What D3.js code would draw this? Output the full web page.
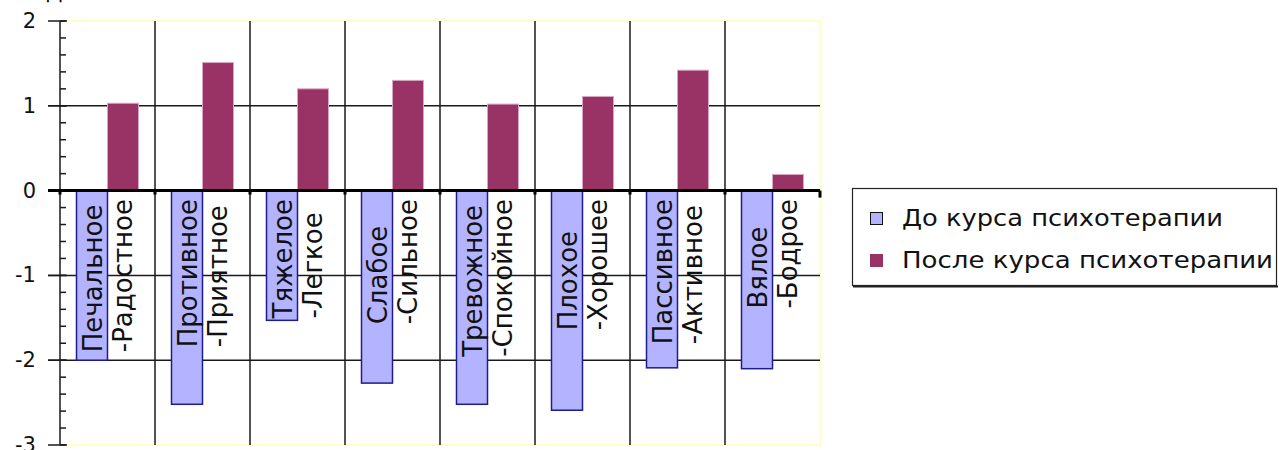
<!DOCTYPE html>
<html>
<head>
  <meta charset="utf-8">
  <style>
    body { margin: 0; background: #fff; }
    svg { display: block; font-family: "DejaVu Sans", Verdana, sans-serif; }
  </style>
</head>
<body>
  <script src="https://d3js.org/d3.v7.min.js"></script>
  <script>
    // Data
    const labelsBefore = ["Печальное", "Противное", "Тяжелое", "Слабое", "Тревожное", "Плохое", "Пассивное", "Вялое"];
    const labelsAfter = ["-Радостное", "-Приятное", "-Легкое", "-Сильное", "-Спокойное", "-Хорошее", "-Активное", "-Бодрое"];
    const valuesBefore = [-2.0, -2.52, -1.53, -2.27, -2.52, -2.59, -2.09, -2.1];
    const valuesAfter = [1.03, 1.51, 1.2, 1.3, 1.02, 1.11, 1.42, 0.19];
    const seriesNames = ["До курса психотерапии", "После курса психотерапии"];
    const yTicks = [2, 1, 0, -1, -2, -3];

    const width = 1279;
    const height = 450;
    const colorBefore = "#b3b3ff";
    const colorAfter = "#993366";

    const svg = d3.select("body")
      .append("svg")
      .attr("width", width)
      .attr("height", height);

    const x = d3.scaleBand()
      .domain(d3.range(labelsBefore.length))
      .range([60, 820]);

    const x1 = d3.scaleBand()
      .domain([0, 1])
      .range([16.5, 78.5]);

    const y = d3.scaleLinear()
      .domain([-3, 2])
      .range([445, 21]);

    // cut-off title at the very top
    svg.append("text")
      .attr("x", 46)
      .attr("y", -1)
      .style("font-size", "21px")
      .text("Д");

    // plot frame (light yellow)
    svg.append("path")
      .attr("d", "M67," + y(2) + "H" + x.range()[1] + "V" + y(-3) + "H67")
      .attr("fill", "none")
      .attr("stroke", "#ffffc8")
      .attr("stroke-width", 2);

    // vertical grid lines between categories
    svg.selectAll(".vgrid")
      .data(d3.range(1, labelsBefore.length))
      .enter()
      .append("line")
      .attr("x1", function(i) { return x(i); })
      .attr("x2", function(i) { return x(i); })
      .attr("y1", y(2))
      .attr("y2", y(-3))
      .attr("stroke", "#1a1a1a")
      .attr("stroke-width", 1.5);

    // horizontal grid lines
    svg.selectAll(".hgrid")
      .data([1, -1, -2])
      .enter()
      .append("line")
      .attr("x1", 48)
      .attr("x2", x.range()[1])
      .attr("y1", function(d) { return y(d); })
      .attr("y2", function(d) { return y(d); })
      .attr("stroke", "#1a1a1a")
      .attr("stroke-width", 1.5);

    // minor ticks
    svg.selectAll(".minor")
      .data(d3.ticks(-3, 2, 25))
      .enter()
      .append("line")
      .attr("x1", 60)
      .attr("x2", 66)
      .attr("y1", function(d) { return y(d); })
      .attr("y2", function(d) { return y(d); })
      .attr("stroke", "#1a1a1a")
      .attr("stroke-width", 1.5);

    // major ticks
    svg.selectAll(".major")
      .data(yTicks)
      .enter()
      .append("line")
      .attr("x1", 48)
      .attr("x2", 67)
      .attr("y1", function(d) { return y(d); })
      .attr("y2", function(d) { return y(d); })
      .attr("stroke", "#1a1a1a")
      .attr("stroke-width", 1.5);

    // y axis line
    svg.append("line")
      .attr("x1", 60)
      .attr("x2", 60)
      .attr("y1", y(2))
      .attr("y2", y(-3))
      .attr("stroke", "#1a1a1a")
      .attr("stroke-width", 1.5);

    svg.selectAll(".ylabel")
      .data(yTicks)
      .enter()
      .append("text")
      .attr("x", 36)
      .attr("y", function(d) { return y(d); })
      .attr("text-anchor", "end")
      .attr("dominant-baseline", "central")
      .style("font-size", "21px")
      .style("fill", "#111")
      .text(function(d) { return d; });

    // bars
    svg.selectAll(".barBefore")
      .data(valuesBefore)
      .enter()
      .append("rect")
      .attr("x", function(d, i) { return x(i) + x1(0); })
      .attr("y", function(d) { return y(Math.max(0, d)); })
      .attr("width", x1.bandwidth())
      .attr("height", function(d) { return Math.abs(y(d) - y(0)); })
      .attr("fill", colorBefore)
      .attr("stroke", "#1c1c8c")
      .attr("stroke-width", 1.5);

    svg.selectAll(".barAfter")
      .data(valuesAfter)
      .enter()
      .append("rect")
      .attr("x", function(d, i) { return x(i) + x1(1); })
      .attr("y", function(d) { return y(Math.max(0, d)); })
      .attr("width", x1.bandwidth())
      .attr("height", function(d) { return Math.abs(y(d) - y(0)); })
      .attr("fill", colorAfter)
      .attr("stroke", "#d8a6c0")
      .attr("stroke-width", 1);

    // zero axis with small ticks
    svg.append("line")
      .attr("x1", 48)
      .attr("x2", x.range()[1])
      .attr("y1", y(0))
      .attr("y2", y(0))
      .attr("stroke", "#000")
      .attr("stroke-width", 3);

    svg.selectAll(".xtick")
      .data(d3.range(0, labelsBefore.length + 1))
      .enter()
      .append("line")
      .attr("x1", function(i) { return x.range()[0] + i * x.step(); })
      .attr("x2", function(i) { return x.range()[0] + i * x.step(); })
      .attr("y1", y(0))
      .attr("y2", function(i) { return y(0) + (i === labelsBefore.length ? 7 : 4); })
      .attr("stroke", "#000")
      .attr("stroke-width", 3);

    // rotated two-line category labels
    const groups = svg.selectAll(".catLabel")
      .data(labelsBefore)
      .enter()
      .append("g")
      .attr("transform", function(d, i) {
        return "translate(" + (x(i) + x.bandwidth() / 2) + "," + 199 + ") rotate(-90)";
      });

    groups.each(function(d, i) {
      const g = d3.select(this);
      const t1 = g.append("text").attr("y", -6).text(labelsBefore[i]);
      const t2 = g.append("text").attr("y", 24.5).text(labelsAfter[i]);
      g.selectAll("text").style("font-size", "26px").style("fill", "#111");
      const maxLen = Math.max(t1.node().getComputedTextLength(), t2.node().getComputedTextLength());
      g.selectAll("text").attr("x", -maxLen);
    });

    // legend
    const legend = svg.append("g");
    legend.append("rect")
      .attr("x", 852.5)
      .attr("y", 188.5)
      .attr("width", 424)
      .attr("height", 97)
      .attr("fill", "#fff")
      .attr("stroke", "#222")
      .attr("stroke-width", 1.2);
    legend.append("line")
      .attr("x1", 853).attr("x2", 1278)
      .attr("y1", 286.5).attr("y2", 286.5)
      .attr("stroke", "#222").attr("stroke-width", 2);

    const legendColors = [colorBefore, colorAfter];
    const legendY = [226, 268];
    const legendWidths = [321, 371];
    seriesNames.forEach(function(name, i) {
      legend.append("rect")
        .attr("x", 870.5)
        .attr("y", legendY[i] - 13.5)
        .attr("width", 12)
        .attr("height", 12)
        .attr("fill", legendColors[i])
        .attr("stroke", i === 0 ? "#111" : colorAfter);
      legend.append("text")
        .attr("x", 902)
        .attr("y", legendY[i])
        .attr("textLength", legendWidths[i])
        .attr("lengthAdjust", "spacingAndGlyphs")
        .style("font-size", "23px")
        .style("fill", "#111")
        .text(name);
    });
  </script>
</body>
</html>
